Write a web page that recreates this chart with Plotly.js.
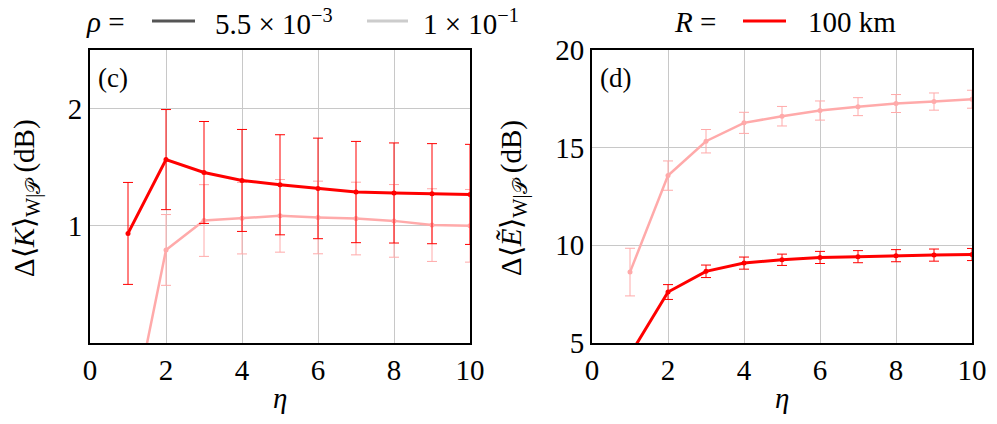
<!DOCTYPE html>
<html>
<head>
<meta charset="utf-8">
<script src="https://cdn.plot.ly/plotly-3.0.1.min.js"></script>
<style>html,body{margin:0;padding:0;background:#fff;}#chart{width:997px;height:424px;}</style>
</head>
<body>
<div id="chart"></div>
<script>
// eta values
const eta = [1, 2, 3, 4, 5, 6, 7, 8, 9, 10];

// Panel (c): Delta<K> (dB)
const K_rhoLow = [0.935, 1.565, 1.455, 1.387, 1.350, 1.319, 1.288, 1.280, 1.274, 1.268];
const K_rhoLow_err = [0.435, 0.427, 0.435, 0.435, 0.427, 0.429, 0.432, 0.427, 0.427, 0.427];
const K_rhoHigh = [-0.80, 0.794, 1.045, 1.065, 1.085, 1.071, 1.062, 1.042, 1.006, 1.000];
const K_rhoHigh_err = [0.30, 0.302, 0.306, 0.305, 0.310, 0.310, 0.310, 0.310, 0.310, 0.310];

// Panel (d): Delta<E~> (dB)
const E_rhoLow = [4.40, 7.61, 8.67, 9.09, 9.26, 9.38, 9.42, 9.47, 9.50, 9.53];
const E_rhoLow_err = [0.40, 0.38, 0.32, 0.31, 0.29, 0.31, 0.31, 0.31, 0.31, 0.31];
const E_rhoHigh = [8.63, 13.57, 15.33, 16.27, 16.61, 16.90, 17.10, 17.26, 17.36, 17.48];
const E_rhoHigh_err = [1.22, 0.75, 0.60, 0.54, 0.50, 0.49, 0.46, 0.46, 0.44, 0.46];

const xTicks = [0, 2, 4, 6, 8, 10];
const yTicksC = [1, 2];
const yTicksD = [5, 10, 15, 20];

const RED = '#ff0000';
const PINK = '#ffaaaa';
const FONT = 'Liberation Serif';
const FS = 29;

function tr(x, y, err, color, lw, xa, ya) {
  return {
    x: x, y: y, type: 'scatter', mode: 'lines+markers',
    xaxis: xa, yaxis: ya,
    line: {color: color, width: lw},
    marker: {color: color, size: 5},
    error_y: {type: 'data', array: err, visible: true, color: color, thickness: 1, width: 5},
    showlegend: false, hoverinfo: 'skip'
  };
}

const data = [
  tr(eta, K_rhoHigh, K_rhoHigh_err, PINK, 2.5, 'x', 'y'),
  tr(eta, K_rhoLow, K_rhoLow_err, RED, 3, 'x', 'y'),
  tr(eta, E_rhoHigh, E_rhoHigh_err, PINK, 2.5, 'x2', 'y2'),
  tr(eta, E_rhoLow, E_rhoLow_err, RED, 3, 'x2', 'y2')
];

const L = 90, R = 25, T = 50, B = 81, W = 997, H = 424;
const pw = W - L - R, ph = H - T - B;
const px = v => (v - L) / pw;
const py = v => 1 - (v - T) / ph;

function axis(extra) {
  return Object.assign({
    showgrid: true, gridcolor: '#c8c8c8', gridwidth: 1,
    zeroline: false, showline: true, mirror: true, linecolor: '#000', linewidth: 2,
    ticks: '', tickfont: {family: FONT, size: FS, color: '#000'}
  }, extra);
}

function ann(x, y, text, size, extra) {
  return Object.assign({xref: 'paper', yref: 'paper', x: px(x), y: py(y), xanchor: 'left', yanchor: 'middle',
    showarrow: false, text: text, font: {family: FONT, size: size, color: '#000'}}, extra || {});
}

const layout = {
  width: W, height: H,
  margin: {l: L, r: R, t: T, b: B},
  paper_bgcolor: '#fff', plot_bgcolor: '#fff',
  font: {family: FONT, color: '#000', size: FS},
  xaxis: axis({domain: [0, px(470)], range: [0, 10], tickvals: xTicks, anchor: 'y'}),
  yaxis: axis({domain: [0, 1], range: [0, 2.5], tickvals: yTicksC, anchor: 'x'}),
  xaxis2: axis({domain: [px(592), 1], range: [0, 10], tickvals: xTicks, anchor: 'y2'}),
  yaxis2: axis({domain: [0, 1], range: [5, 20], tickvals: yTicksD, anchor: 'x2'}),
  shapes: [
    {type: 'line', xref: 'paper', yref: 'paper', x0: px(152), x1: px(195), y0: py(21), y1: py(21), line: {color: '#555555', width: 3}},
    {type: 'line', xref: 'paper', yref: 'paper', x0: px(367), x1: px(408), y0: py(21), y1: py(21), line: {color: '#cccccc', width: 3}},
    {type: 'line', xref: 'paper', yref: 'paper', x0: px(743), x1: px(786), y0: py(21), y1: py(21), line: {color: RED, width: 3}}
  ],
  annotations: [
    ann(84, 22, '<i>ρ</i> =', FS),
    ann(213, 22, '5.5 × 10<sup>−3</sup>', FS),
    ann(421, 22, '1 × 10<sup>−1</sup>', FS),
    ann(672, 22, '<i>R</i> =', FS),
    ann(806, 22, '100 km', FS),
    ann(96, 78, '(c)', 27),
    ann(598, 78, '(d)', 27),
    ann(280, 398, '<i>η</i>', FS, {xanchor: 'center'}),
    ann(782, 398, '<i>η</i>', FS, {xanchor: 'center'}),
    ann(26, 198, 'Δ⟨<i>K</i>⟩<sub>W|𝒫</sub> (dB)', FS, {xanchor: 'center', textangle: -90}),
    ann(513, 198, 'Δ⟨<i>Ẽ</i>⟩<sub>W|𝒫</sub> (dB)', FS, {xanchor: 'center', textangle: -90})
  ]
};

Plotly.newPlot('chart', data, layout, {displayModeBar: false});
</script>
</body>
</html>
